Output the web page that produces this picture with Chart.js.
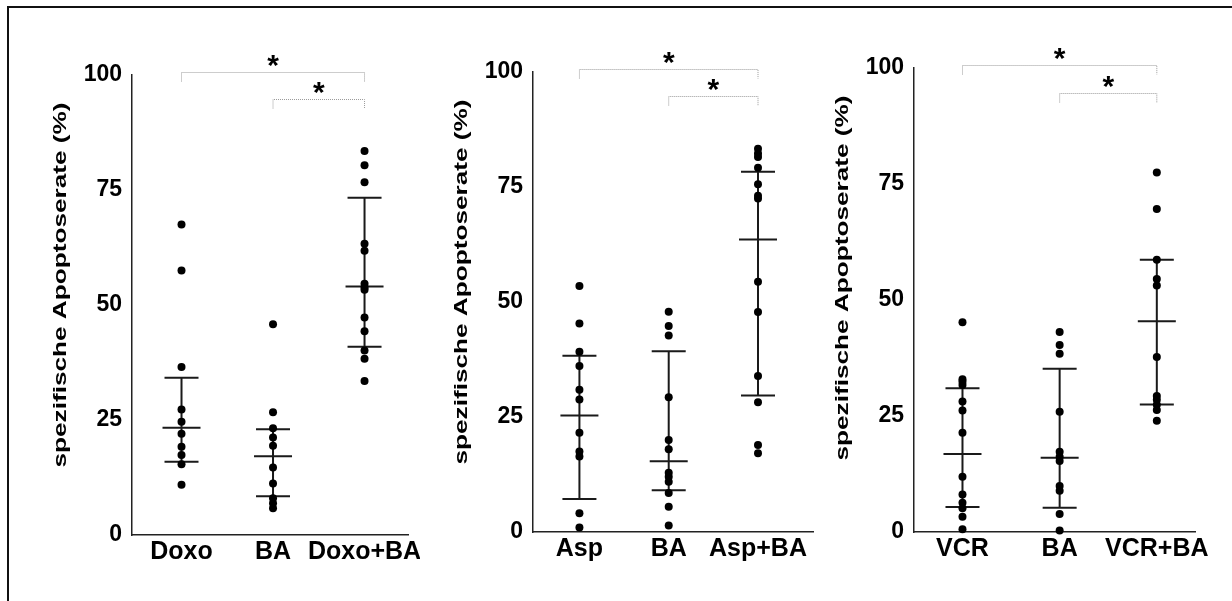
<!DOCTYPE html>
<html>
<head>
<meta charset="utf-8">
<title>spezifische Apoptoserate</title>
<script src="https://cdn.jsdelivr.net/npm/chart.js@4.4.1/dist/chart.umd.min.js"></script>
<style>
  html, body { margin: 0; padding: 0; background: #fff; width: 1232px; height: 601px; overflow: hidden; }
  #frame { position: absolute; left: 7px; top: 6px; width: 1300px; height: 700px;
           border-left: 2px solid #111; border-top: 2px solid #111; }
  canvas { position: absolute; top: 0; }
</style>
</head>
<body>
<div id="frame"></div>
<canvas id="panelDoxo" width="410" height="601" style="left:10px"></canvas>
<canvas id="panelAsp" width="400" height="601" style="left:420px"></canvas>
<canvas id="panelVcr" width="400" height="601" style="left:820px"></canvas>

<script>
// ---- values (% specific apoptosis), one array per treatment group ----
const doxoCategories = ['Doxo', 'BA', 'Doxo+BA'];
const doxoAlone  = [67.5, 57.5, 36.5, 27.3, 24.6, 22.0, 19.2, 17.4, 15.4, 10.9];
const doxoBaOnly = [45.8, 26.7, 23.2, 21.2, 19.4, 14.7, 11.2, 8.0, 6.9, 5.8];
const doxoWithBa = [83.5, 80.4, 76.7, 63.3, 61.8, 54.6, 53.8, 53.3, 47.3, 44.3, 40.1, 38.3, 33.5];
const doxoMedian = [23.3, 17.1, 54.0];
const doxoQ1     = [15.9, 8.4, 40.9];
const doxoQ3     = [34.2, 23.0, 73.3];

const aspCategories = ['Asp', 'BA', 'Asp+BA'];
const aspAlone  = [53.5, 45.3, 39.2, 36.1, 30.9, 28.8, 21.6, 17.5, 16.4, 4.1, 1.0];
const aspBaOnly = [47.9, 44.8, 42.7, 29.3, 20.0, 18.0, 12.9, 12.0, 10.9, 8.5, 5.5, 1.4];
const aspWithBa = [83.3, 82.3, 81.5, 79.2, 75.6, 73.1, 72.5, 54.4, 47.8, 33.9, 28.2, 18.9, 17.1];
const aspMedian = [25.3, 15.4, 63.6];
const aspQ1     = [7.2, 9.1, 29.7];
const aspQ3     = [38.3, 39.3, 78.3];

const vcrCategories = ['VCR', 'BA', 'VCR+BA'];
const vcrAlone  = [45.2, 32.9, 32.4, 31.7, 28.1, 26.2, 21.4, 11.9, 8.1, 6.3, 5.1, 3.3, 0.6];
const vcrBaOnly = [43.1, 40.3, 38.4, 25.9, 17.3, 16.2, 15.3, 9.9, 8.9, 3.9, 0.3];
const vcrWithBa = [77.5, 69.6, 58.7, 54.5, 53.1, 37.7, 29.3, 28.5, 27.4, 26.3, 24.0];
const vcrMedian = [16.8, 16.0, 45.4];
const vcrQ1     = [5.4, 5.2, 27.5];
const vcrQ3     = [31.0, 35.2, 58.7];

const yTickValues = [0, 25, 50, 75, 100];
const yTitleText = 'spezifische Apoptoserate (%)';

// significance brackets: group index pairs and the level they are drawn at
const bracketFrom  = [0, 1];
const bracketTo    = [2, 2];
const bracketLevel = [100.7, 94.7];
const bracketMark  = ['*', '*'];

const FONT = '"Liberation Sans", Arial, Helvetica, sans-serif';

// median line with interquartile whiskers per group
const summaryLines = {
  id: 'summaryLines',
  beforeDatasetsDraw(chart, args, o) {
    const { ctx, scales: { x, y } } = chart;
    ctx.save();
    ctx.strokeStyle = o.color;
    ctx.lineWidth = o.width;
    o.median.forEach((m, i) => {
      const px = x.getPixelForValue(i);
      const y1 = y.getPixelForValue(o.q1[i]);
      const y3 = y.getPixelForValue(o.q3[i]);
      const ym = y.getPixelForValue(m);
      ctx.beginPath();
      ctx.moveTo(px, y3); ctx.lineTo(px, y1);
      ctx.moveTo(px - o.capHalf, y3); ctx.lineTo(px + o.capHalf, y3);
      ctx.moveTo(px - o.capHalf, y1); ctx.lineTo(px + o.capHalf, y1);
      ctx.moveTo(px - o.medianHalf, ym); ctx.lineTo(px + o.medianHalf, ym);
      ctx.stroke();
    });
    ctx.restore();
  }
};

// dotted significance brackets with a star above each
const brackets = {
  id: 'brackets',
  afterDraw(chart, args, o) {
    const { ctx, scales: { x, y } } = chart;
    ctx.save();
    o.from.forEach((f, k) => {
      const xa = x.getPixelForValue(f);
      const xb = x.getPixelForValue(o.to[k]);
      const yl = Math.round(y.getPixelForValue(o.level[k])) + 0.5;
      ctx.strokeStyle = o.color;
      ctx.lineWidth = 1;
      ctx.setLineDash([1, 1]);
      ctx.beginPath();
      ctx.moveTo(xa, yl + o.drop); ctx.lineTo(xa, yl); ctx.lineTo(xb, yl); ctx.lineTo(xb, yl + o.drop);
      ctx.stroke();
      ctx.setLineDash([]);
      ctx.fillStyle = '#000';
      ctx.font = 'bold ' + o.starSize + 'px ' + FONT;
      ctx.textAlign = 'center';
      ctx.textBaseline = 'alphabetic';
      const m = ctx.measureText(o.mark[k]);
      const cy = yl - o.starGap;
      ctx.fillText(o.mark[k], (xa + xb) / 2, cy + (m.actualBoundingBoxAscent - m.actualBoundingBoxDescent) / 2);
    });
    ctx.restore();
  }
};

// rotated, horizontally stretched y-axis title
const yTitle = {
  id: 'yTitle',
  afterDraw(chart, args, o) {
    const { ctx, chartArea } = chart;
    ctx.save();
    ctx.font = 'bold ' + o.size + 'px ' + FONT;
    const w = ctx.measureText(o.text).width;
    ctx.translate(chartArea.left + o.dx, chartArea.top + o.dy);
    ctx.rotate(-Math.PI / 2);
    ctx.scale(o.length / w, 1);
    ctx.fillStyle = '#000';
    ctx.textAlign = 'center';
    ctx.textBaseline = 'middle';
    ctx.fillText(o.text, 0, 0);
    ctx.restore();
  }
};

function buildPanel(id, categories, groups, median, q1, q3, layout) {
  const yTickFont = { family: FONT, size: 23, weight: 'bold' };
  const xTickFont = { family: FONT, size: 25, weight: 'bold' };
  return new Chart(document.getElementById(id), {
    type: 'scatter',
    data: {
      datasets: groups.map((vals, i) => ({
        label: categories[i],
        data: vals.map(v => ({ x: i, y: v })),
        backgroundColor: '#000',
        borderWidth: 0,
        pointRadius: 4,
        clip: false
      }))
    },
    options: {
      responsive: false,
      devicePixelRatio: 1,
      animation: false,
      events: [],
      layout: { padding: { top: layout.top, bottom: layout.bottom, left: 0, right: layout.right } },
      scales: {
        x: {
          type: 'linear',
          min: layout.xMin,
          max: layout.xMax,
          afterBuildTicks: s => { s.ticks = categories.map((_, i) => ({ value: i })); },
          afterFit: s => { s.height = 40; s.paddingLeft = 0; s.paddingRight = 0; },
          ticks: { callback: v => categories[v], font: xTickFont, color: '#000', padding: 2,
                   maxRotation: 0, autoSkip: false },
          grid: { display: false, drawTicks: false },
          border: { color: '#222', width: 1.5 }
        },
        y: {
          min: 0,
          max: 100,
          afterBuildTicks: s => { s.ticks = yTickValues.map(v => ({ value: v })); },
          afterFit: s => { s.width = layout.yWidth; },
          ticks: { font: yTickFont, color: '#000', padding: 10 },
          grid: { display: false, drawTicks: false },
          border: { color: '#222', width: 1.5 }
        }
      },
      plugins: {
        legend: { display: false },
        tooltip: { enabled: false },
        summaryLines: { median, q1, q3, color: '#1a1a1a', width: 2, capHalf: 17, medianHalf: 19 },
        brackets: { from: bracketFrom, to: bracketTo, level: bracketLevel, mark: bracketMark,
                    color: '#9a9a9a', drop: 9, starSize: 30, starGap: 12 },
        yTitle: { text: yTitleText, size: 19, length: 365, dx: -71, dy: 210 }
      }
    },
    plugins: [summaryLines, brackets, yTitle]
  });
}

buildPanel('panelDoxo', doxoCategories, [doxoAlone, doxoBaOnly, doxoWithBa], doxoMedian, doxoQ1, doxoQ3,
  { top: 75, bottom: 26, right: 12, yWidth: 122, xMin: -0.541, xMax: 2.475 });
buildPanel('panelAsp', aspCategories, [aspAlone, aspBaOnly, aspWithBa], aspMedian, aspQ1, aspQ3,
  { top: 72, bottom: 29, right: 7, yWidth: 113, xMin: -0.520, xMax: 2.616 });
buildPanel('panelVcr', vcrCategories, [vcrAlone, vcrBaOnly, vcrWithBa], vcrMedian, vcrQ1, vcrQ3,
  { top: 68, bottom: 29, right: 25, yWidth: 94, xMin: -0.499, xMax: 2.393 });
</script>
</body>
</html>
